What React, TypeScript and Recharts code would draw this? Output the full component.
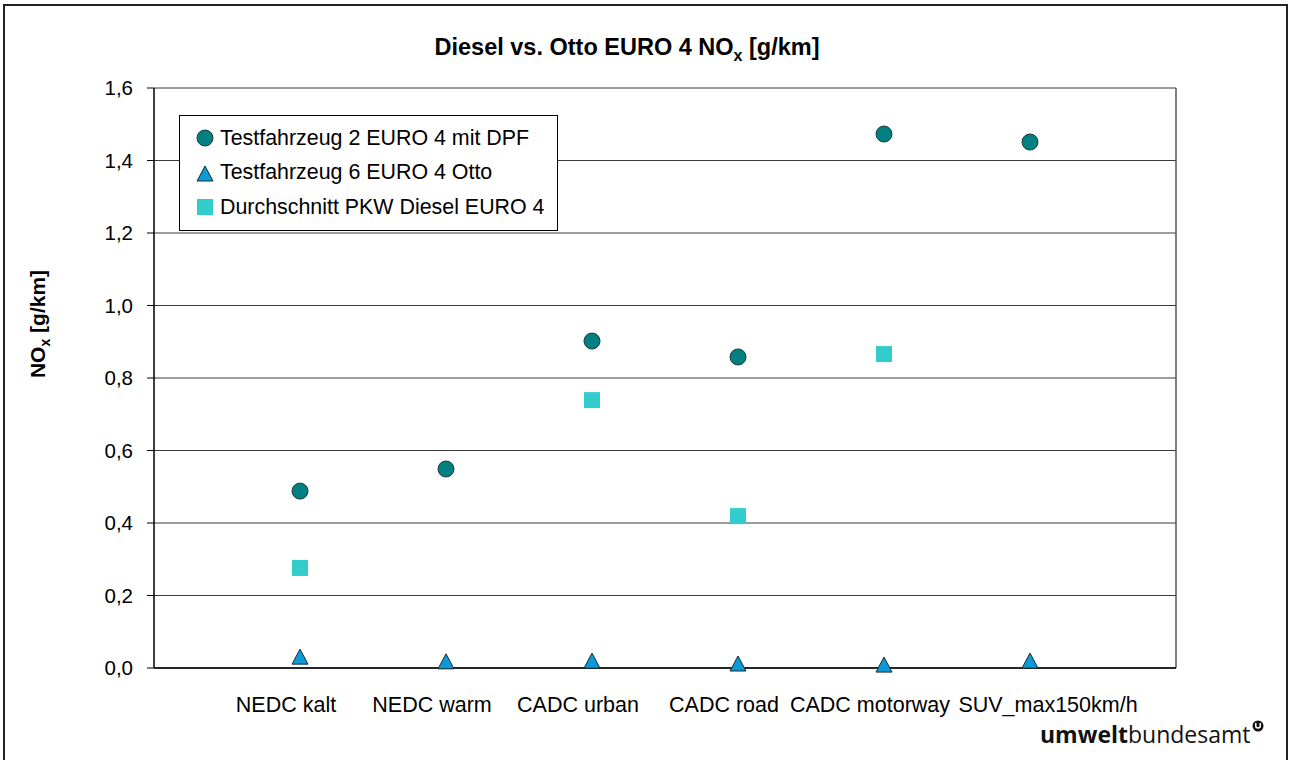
import {
  ScatterChart,
  Scatter,
  XAxis,
  YAxis,
  CartesianGrid,
  Legend,
  ReferenceLine,
} from "recharts";

const categories = [
  "NEDC kalt",
  "NEDC warm",
  "CADC urban",
  "CADC road",
  "CADC motorway",
  "SUV_max150km/h",
];

// NOx [g/km] per cycle, null = no value
const diesel2 = [0.488, 0.549, 0.902, 0.858, 1.473, 1.451];
const otto6 = [0.03, 0.017, 0.019, 0.011, 0.008, 0.019];
const avgDiesel = [0.276, null, 0.739, 0.419, 0.866, null];

const yTicks = [0, 0.2, 0.4, 0.6, 0.8, 1.0, 1.2, 1.4, 1.6];

const FONT = '"Liberation Sans", Arial, sans-serif';

const toPoints = (vals: (number | null)[]) =>
  vals
    .map((v, i) => (v == null ? null : { x: i + 1, y: v, name: categories[i] }))
    .filter((p) => p !== null);

const CircleShape = (p: any) => (
  <circle cx={p.cx} cy={p.cy} r={8} fill="#008080" stroke="#1f3d3d" strokeWidth={1} />
);

const TriangleShape = (p: any) => (
  <polygon
    points={`${p.cx},${p.cy - 8} ${p.cx - 8},${p.cy + 7} ${p.cx + 8},${p.cy + 7}`}
    fill="#0a9bd6"
    stroke="#1a2a33"
    strokeWidth={1}
  />
);

const SquareShape = (p: any) => (
  <rect x={p.cx - 8} y={p.cy - 8} width={16} height={16} fill="#33cccc" />
);

// x labels sit a little left of the markers, the last one is pushed right
const CategoryTick = (p: any) => {
  const last = p.index === categories.length - 1;
  return (
    <text
      x={p.x + (last ? 18 : -14)}
      y={p.y}
      dy="0.71em"
      textAnchor="middle"
      fill="#000"
      fontSize={21.5}
      fontFamily={FONT}
    >
      {categories[p.payload.value - 1]}
    </text>
  );
};

const legendItems = [
  { label: "Testfahrzeug 2 EURO 4 mit DPF", kind: "circle" },
  { label: "Testfahrzeug 6 EURO 4 Otto", kind: "triangle" },
  { label: "Durchschnitt PKW Diesel EURO 4", kind: "square" },
];

function LegendBox() {
  return (
    <div
      style={{
        width: 379,
        height: 116,
        border: "1px solid #000",
        background: "#fff",
        fontFamily: FONT,
        fontSize: 21.4,
        color: "#000",
        paddingTop: 5,
        boxSizing: "border-box",
      }}
    >
      {legendItems.map((it) => (
        <div
          key={it.label}
          style={{ display: "flex", alignItems: "center", height: 34.5, paddingLeft: 16 }}
        >
          <svg width={18} height={18} style={{ marginRight: 6 }}>
            {it.kind === "circle" && <CircleShape cx={9} cy={9} />}
            {it.kind === "triangle" && <TriangleShape cx={9} cy={10} />}
            {it.kind === "square" && <SquareShape cx={9} cy={9} />}
          </svg>
          <span>{it.label}</span>
        </div>
      ))}
    </div>
  );
}

export default function App() {
  return (
    <div
      style={{
        position: "absolute",
        left: 0,
        top: 0,
        width: 1290,
        height: 760,
        overflow: "hidden",
        background: "#fff",
        fontFamily: FONT,
      }}
    >
      <div
        style={{
          position: "absolute",
          left: 3,
          top: 4,
          width: 1285,
          height: 820,
          border: "2px solid #222",
          boxSizing: "border-box",
        }}
      />
      <div
        style={{
          position: "absolute",
          left: 377,
          top: 34,
          width: 500,
          textAlign: "center",
          fontSize: 23.5,
          fontWeight: "bold",
          whiteSpace: "nowrap",
        }}
      >
        Diesel vs. Otto EURO 4 NO<sub style={{ fontSize: 16, lineHeight: 0 }}>x</sub> [g/km]
      </div>
      <div
        style={{
          position: "absolute",
          left: 38,
          top: 324,
          transform: "translate(-50%, -50%) rotate(-90deg)",
          fontSize: 21,
          fontWeight: "bold",
          whiteSpace: "nowrap",
        }}
      >
        NO<sub style={{ fontSize: 14, lineHeight: 0 }}>x</sub> [g/km]
      </div>
      <ScatterChart
        width={1290}
        height={760}
        margin={{ top: 88, right: 114, bottom: 42, left: 94 }}
        style={{ position: "absolute", left: 0, top: 0 }}
      >
        <CartesianGrid vertical={false} stroke="#3a3a3a" strokeWidth={1} />
        <XAxis
          type="number"
          dataKey="x"
          domain={[0, 7]}
          ticks={[1, 2, 3, 4, 5, 6]}
          interval={0}
          height={50}
          tickLine={false}
          tickSize={0}
          tickMargin={29}
          axisLine={{ stroke: "#000", strokeWidth: 1.5 }}
          tick={CategoryTick}
        />
        <YAxis
          type="number"
          dataKey="y"
          domain={[0, 1.6]}
          ticks={yTicks}
          interval={0}
          width={60}
          tickSize={7}
          tickMargin={14}
          tickFormatter={(v: number) => v.toFixed(1).replace(".", ",")}
          axisLine={{ stroke: "#000", strokeWidth: 1.5 }}
          tickLine={{ stroke: "#000" }}
          tick={{ fill: "#000", fontSize: 20.5, fontFamily: FONT }}
        />
        <ReferenceLine x={7} stroke="#555" strokeWidth={1.5} />
        <Legend
          layout="vertical"
          align="center"
          verticalAlign="middle"
          wrapperStyle={{ left: 179, top: 115, width: 379 }}
          content={() => <LegendBox />}
        />
        <Scatter
          name="Testfahrzeug 2 EURO 4 mit DPF"
          data={toPoints(diesel2)}
          shape={CircleShape}
          isAnimationActive={false}
        />
        <Scatter
          name="Testfahrzeug 6 EURO 4 Otto"
          data={toPoints(otto6)}
          shape={TriangleShape}
          isAnimationActive={false}
        />
        <Scatter
          name="Durchschnitt PKW Diesel EURO 4"
          data={toPoints(avgDiesel)}
          shape={SquareShape}
          isAnimationActive={false}
        />
      </ScatterChart>
      <div
        style={{
          position: "absolute",
          left: 1040,
          top: 722,
          fontFamily: '"Open Sans", "DejaVu Sans", sans-serif',
          fontSize: 23,
          lineHeight: "24px",
          color: "#111",
          whiteSpace: "nowrap",
        }}
      >
        <b>umwelt</b>bundesamt
        <svg width={12} height={12} style={{ verticalAlign: "top", marginLeft: 1, marginTop: -2 }}>
          <circle cx={6} cy={6} r={5.5} fill="#111" />
          <path d="M3.8 3 V7 Q6 9.2 8.2 7 V3" stroke="#fff" strokeWidth={1.5} fill="none" />
        </svg>
      </div>
    </div>
  );
}
